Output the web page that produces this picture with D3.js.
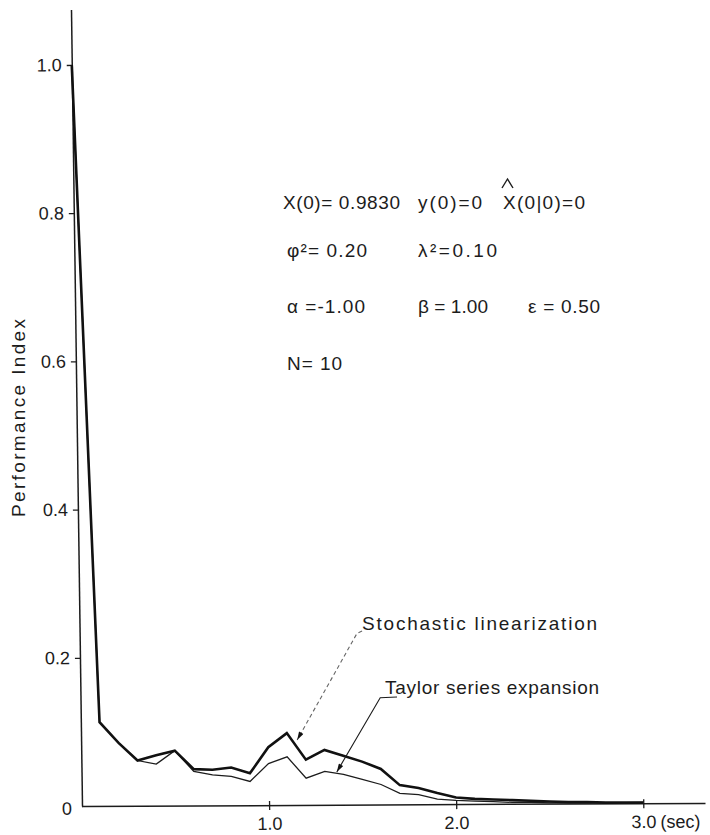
<!DOCTYPE html>
<meta charset="utf-8">
<script src="https://d3js.org/d3.v7.min.js"></script>
<style>
  body { margin: 0; background: #fff; }
  text { font-family: "Liberation Sans", Arial, sans-serif; fill: #1c1c1c; }
</style>
<div id="chart"></div>
<script>

// time (sec) and performance index of the two filters
var times = [0, 0.1, 0.2, 0.3, 0.4, 0.5, 0.6, 0.7, 0.8, 0.9, 1.0,
             1.1, 1.2, 1.3, 1.4, 1.5, 1.6, 1.7, 1.8, 1.9, 2.0,
             2.1, 2.2, 2.3, 2.4, 2.5, 2.6, 2.7, 2.8, 2.9, 3.0];
var stochastic = [1.0, 0.113, 0.085, 0.061, 0.068, 0.074, 0.049, 0.048, 0.051, 0.043, 0.078,
                  0.097, 0.061, 0.074, 0.066, 0.058, 0.048, 0.026, 0.022, 0.015, 0.009,
                  0.007, 0.006, 0.005, 0.004, 0.003, 0.002, 0.002, 0.001, 0.001, 0.001];
var taylor = [1.0, 0.113, 0.085, 0.061, 0.056, 0.074, 0.046, 0.041, 0.039, 0.032, 0.056,
              0.065, 0.036, 0.045, 0.041, 0.034, 0.027, 0.015, 0.013, 0.007, 0.005,
              0.004, 0.003, 0.002, 0.002, 0.001, 0.001, 0.001, 0.001, 0.001, 0.001];
var xTicks = [1.0, 2.0, 3.0];
var yTicks = [0, 0.2, 0.4, 0.6, 0.8, 1.0];

var width = 710, height = 835;

var svg = d3.select("#chart")
  .append("svg")
    .attr("width", width)
    .attr("height", height);

var x = d3.scaleLinear().domain([0, 3.33]).range([82, 705]);
var y = d3.scaleLinear().domain([0, 1.075]).range([806, 9.4]);

// the scanned figure is slightly sheared, so the plot is too
var k = 11 / 796, b = -0.005;
var plot = svg.append("g")
  .attr("transform", "matrix(1," + b + "," + k + ",1," + (-k * 806) + "," + (-b * 82) + ")");

// x axis
var xAxis = plot.append("g")
  .attr("transform", "translate(0," + y(0) + ")")
  .call(d3.axisBottom(x).tickValues(xTicks).tickSize(5).tickSizeOuter(0)
        .tickPadding(7).tickFormat(d3.format(".1f")));
xAxis.selectAll(".tick line").attr("y1", -4);
xAxis.append("text")
  .attr("x", x(3.0) + 17)
  .attr("y", 12)
  .attr("dy", "0.71em")
  .attr("text-anchor", "start")
  .style("font-size", "18px")
  .text("(sec)");

// y axis
var yAxis = plot.append("g")
  .attr("transform", "translate(" + x(0) + ",0)")
  .call(d3.axisLeft(y).tickValues(yTicks).tickSize(5).tickSizeOuter(0)
        .tickPadding(5).tickFormat(function(d) { return d === 0 ? "0" : d3.format(".1f")(d); }));
yAxis.selectAll(".tick line").attr("x2", function(d) { return d === 0 ? 0 : -5; }).attr("x1", 1);
yAxis.selectAll(".tick").filter(function(d) { return d === 0; }).select("text").attr("dy", "0.45em");

svg.selectAll(".domain").attr("stroke", "#1c1c1c").attr("stroke-width", 1.5);
svg.selectAll(".tick line").attr("stroke", "#1c1c1c").attr("stroke-width", 1.3);
svg.selectAll(".tick text").style("font-size", "18px").attr("fill", "#1c1c1c");

// curves
var line = d3.line()
  .x(function(d, i) { return x(times[i]); })
  .y(function(d) { return y(d); });

plot.append("path")
  .datum(taylor)
  .attr("fill", "none")
  .attr("stroke", "#1c1c1c")
  .attr("stroke-width", 1.3)
  .attr("d", line);

plot.append("path")
  .datum(stochastic)
  .attr("fill", "none")
  .attr("stroke", "#111")
  .attr("stroke-width", 2.6)
  .attr("d", line);

// y label
svg.append("text")
  .attr("transform", "translate(25,418) rotate(-90)")
  .attr("text-anchor", "middle")
  .attr("font-size", 19)
  .attr("textLength", 198)
  .attr("lengthAdjust", "spacing")
  .text("Performance Index");

// parameter block
var params = [
  { t: "X(0)= 0.9830", x: 283, y: 209, w: 117 },
  { t: "y(0)=0",       x: 418, y: 209, w: 64 },
  { t: "X(0|0)=0",     x: 503, y: 209, w: 82 },
  { t: "\u03c6\u00b2= 0.20", x: 287, y: 257, w: 80 },
  { t: "\u03bb\u00b2=0.10",  x: 418, y: 257, w: 79 },
  { t: "\u03b1 =-1.00", x: 287, y: 313, w: 78 },
  { t: "\u03b2 = 1.00", x: 418, y: 313, w: 70 },
  { t: "\u03b5 = 0.50", x: 528, y: 313, w: 72 },
  { t: "N= 10",        x: 287, y: 370, w: 55 }
];
svg.selectAll(".param")
  .data(params)
  .enter()
  .append("text")
    .attr("class", "param")
    .attr("x", function(d) { return d.x; })
    .attr("y", function(d) { return d.y; })
    .attr("font-size", 19)
    .attr("textLength", function(d) { return d.w; })
    .attr("lengthAdjust", "spacing")
    .text(function(d) { return d.t; });

// hat over the estimate X
svg.append("path")
  .attr("d", "M502,188L507.5,179L513,188")
  .attr("fill", "none")
  .attr("stroke", "#1c1c1c")
  .attr("stroke-width", 1.4);

// annotations with arrows
svg.append("defs").append("marker")
  .attr("id", "arr")
  .attr("viewBox", "0 0 10 6")
  .attr("refX", 10).attr("refY", 3)
  .attr("markerWidth", 10).attr("markerHeight", 5)
  .attr("markerUnits", "userSpaceOnUse")
  .attr("orient", "auto")
  .append("path")
    .attr("d", "M0,0L10,3L0,6Z")
    .attr("fill", "#111");

var notes = [
  { label: "Stochastic linearization", at: [1.497, 0.2375], w: 235,
    path: [[1.497, 0.236], [1.47, 0.233], [1.150, 0.089]], dash: "4,3", color: "#666" },
  { label: "Taylor series expansion", at: [1.620, 0.151], w: 214,
    path: [[1.684, 0.147], [1.594, 0.146], [1.362, 0.046]], dash: null, color: "#1c1c1c" }
];

var noteLine = d3.line()
  .x(function(d) { return x(d[0]); })
  .y(function(d) { return y(d[1]); });

notes.forEach(function(n) {
  svg.append("path")
    .attr("d", noteLine(n.path))
    .attr("fill", "none")
    .attr("stroke", n.color)
    .attr("stroke-width", 1.1)
    .attr("stroke-dasharray", n.dash)
    .attr("marker-end", "url(#arr)");
  svg.append("text")
    .attr("x", x(n.at[0]))
    .attr("y", y(n.at[1]))
    .attr("font-size", 19)
    .attr("textLength", n.w)
    .attr("lengthAdjust", "spacing")
    .text(n.label);
});

</script>
